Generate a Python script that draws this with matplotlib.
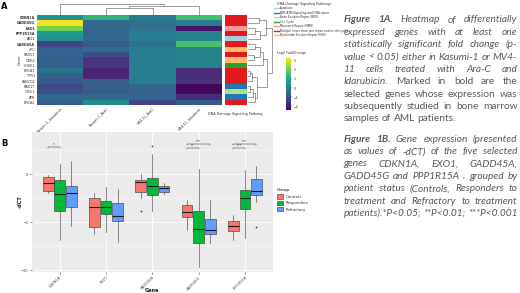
import numpy as np
import matplotlib
matplotlib.use("Agg")
import matplotlib.pyplot as plt
from matplotlib.colors import ListedColormap
from matplotlib.lines import Line2D
from matplotlib.patches import Patch

W, H = 520, 293

# ---------------- panel A: heatmap data ----------------
hm_genes = ["CDKN1A", "GADD45G", "EXO1", "PPP1R15A", "ABL1", "GADD45A", "XPC",
            "RAD51", "DDB2", "CHEK1", "BRCA1", "TP53", "FANCD2", "RAD17", "OGG1",
            "ATR", "BRCA2"]
hm_bold = ["CDKN1A", "GADD45G", "EXO1", "PPP1R15A", "GADD45A"]
hm_cols = ["Kasumi-1_Idarubicin", "Kasumi-1_AraC", "MV4-11_AraC", "MV4-11_Idarubicin"]

lfc_c1 = [0.45, 3.2, 2.1, 0.7, 0.45, -1.25, -0.6, -0.6, -0.65, -0.7, -0.2, -0.7,
          -0.8, -1.15, -1.0, -0.5, -0.75]
lfc_c2 = [1.3, -0.5, -0.55, -0.5, -0.5, -0.8, -0.4, -1.1, -1.55, -1.55, -1.85, -1.8,
          -0.75, -0.75, -0.75, -0.5, 0.3]
lfc_c3 = [-0.05, -0.25, -0.25, 0.0, 0.0, -0.2, 0.0, 0.0, 0.0, 0.0, 0.0, 0.0, 0.0,
          -0.55, -0.6, -0.55, -1.25]
lfc_c4 = [1.6, -0.05, -2.1, 0.15, 0.15, 1.6, 0.15, 0.15, 0.15, 0.15, -1.7, -1.7,
          -1.55, -2.3, -2.3, -1.7, -0.8]

pathways = ["Apoptosis", "ATR/ATM Signaling and DNA repair", "Base Excision Repair (BER)",
            "Cell Cycle", "Mismatch Repair (MMR)",
            "Multiple (more than one repair and/or cell cycle)",
            "Nucleotide Excision Repair (NER)"]
pathway_colors = ["#a6cee3", "#1f78b4", "#b2df8a", "#33a02c", "#fb9a99", "#e31a1c", "#fdbf6f"]
row_pathway = [5, 5, 4, 5, 0, 5, 6, 5, 6, 3, 5, 5, 5, 1, 2, 1, 5]

# linkage: (child a, child b, height); clusters numbered after the leaves
col_merges = [(1, 2, 0.59), (3, 4, 0.80), (0, 5, 1.0)]
row_merges = [(0, 1, 0.45), (2, 3, 0.30), (18, 4, 0.50), (17, 19, 0.75),
              (5, 6, 0.30), (7, 8, 0.25), (21, 22, 0.50), (23, 9, 0.62),
              (10, 11, 0.10), (25, 12, 0.20), (13, 14, 0.12), (27, 15, 0.22),
              (28, 16, 0.30), (26, 29, 0.40), (24, 30, 0.80), (20, 31, 1.0)]

# ---------------- panel B: box data (-dCT) ----------------
genes_b = ["CDKN1A", "EXO1", "GADD45A", "GADD45G", "PPP1R15A"]
groups = ["Controls", "Responders", "Refractory"]
group_colors = ["#F8766D", "#00BA38", "#619CFF"]
# per gene: [Controls, Responders, Refractory]
box_lo = [[-2.0, -6.9, -5.4], [-6.25, -6.0, -7.05], [-2.5, -3.82, -2.08],
          [-5.83, -9.66, -7.22], [-6.87, -6.7, -2.88]]
box_q1 = [[-1.74, -3.85, -3.47], [-5.49, -4.1, -4.86], [-1.84, -2.19, -1.84],
          [-4.51, -7.22, -6.25], [-5.94, -3.68, -2.19]]
box_med = [[-0.9, -2.08, -2.0], [-3.47, -3.47, -4.38], [-0.8, -1.22, -1.49],
           [-3.92, -5.76, -5.83], [-5.38, -2.53, -1.74]]
box_q3 = [[-0.28, -0.63, -1.18], [-2.53, -2.78, -2.99], [-0.63, -0.38, -1.25],
          [-3.23, -3.85, -4.69], [-4.9, -1.67, -0.55]]
box_hi = [[-0.1, 1.04, 1.39], [-2.0, -1.3, -1.5], [0.07, 2.15, -0.9],
          [-2.7, 0.49, -2.7], [-4.27, 0.42, 0.83]]
box_out = [[[], [], []], [[], [], []], [[-3.8], [2.9], []], [[], [], []], [[], [], [-5.49]]]

sig_gene = [0, 3, 3, 4, 4]
sig_pair = [(0, 1), (0, 2), (0, 1), (0, 2), (0, 1)]
sig_y = [2.85, 3.12, 2.78, 3.12, 2.78]
sig_label = ["*", "***", "**", "***", "***"]

# ---------------- caption ----------------
cap_a = [
    [("Figure 1A.", "bi"), ("Heatmap of differentially", "i")],
    [("expressed genes with at least one", "i")],
    [("statistically significant fold change (p-", "i")],
    [("value < 0.05) either in Kasumi-1 or MV4-", "i")],
    [("11 cells treated with Ara-C and", "i")],
    [("Idarubicin.", "i"), ("Marked in bold are the", "n")],
    [("selected genes whose expression was", "n")],
    [("subsequently studied in bone marrow", "n")],
    [("samples of AML patients.", "n")],
]
cap_b = [
    [("Figure 1B.", "bi"), ("Gene expression (presented", "i")],
    [("as values of -dCT) of the five selected", "i")],
    [("genes CDKN1A, EXO1, GADD45A,", "i")],
    [("GADD45G and PPP1R15A , grouped by", "i")],
    [("patient status (Controls, Responders to", "i")],
    [("treatment and Refractory to treatment", "i")],
    [("patients).*P<0.05; **P<0.01; ***P<0.001", "i")],
]


def rect(x0, y0, x1, y1):
    return [x0 / W, 1 - y1 / H, (x1 - x0) / W, (y1 - y0) / H]


def draw_dendro(ax, merges, n, orient):
    pos = list(np.arange(n) + 0.5)
    hgt = [0.0] * n
    for a, b, h in merges:
        xs = [pos[a], pos[a], pos[b], pos[b]]
        ys = [hgt[a], h, h, hgt[b]]
        if orient == "top":
            ax.plot(xs, ys, color="#555555", lw=0.4, clip_on=False)
        else:
            ax.plot(ys, xs, color="#555555", lw=0.4, clip_on=False)
        pos.append((pos[a] + pos[b]) / 2)
        hgt.append(h)


fig = plt.figure(figsize=(W / 100, H / 100), dpi=100)
fig.patch.set_facecolor("white")
small = dict(fontsize=2.4, color="#333333")

# heatmap
axh = fig.add_axes(rect(36.7, 15, 222, 105))
mat = np.column_stack([lfc_c1, lfc_c2, lfc_c3, lfc_c4])
mesh = axh.pcolormesh(mat, cmap="viridis", vmin=-2.4, vmax=3.3)
axh.set_ylim(len(hm_genes), 0)
axh.set_yticks(np.arange(len(hm_genes)) + 0.5)
axh.set_yticklabels(hm_genes, **small)
for lab in axh.get_yticklabels():
    if lab.get_text() in hm_bold:
        lab.set_fontweight("bold")
axh.set_xticks(np.arange(len(hm_cols)) + 0.5)
axh.set_xticklabels(hm_cols, rotation=45, ha="right", rotation_mode="anchor", **small)
axh.tick_params(length=0, pad=1)
axh.set_xlabel("Cell Treatment", fontsize=2.8, color="#333333", labelpad=4)
axh.set_ylabel("Gene", fontsize=2.8, color="#333333")
axh.yaxis.set_label_coords(-0.081, 0.5)
for s in axh.spines.values():
    s.set_visible(False)

# pathway annotation column
axa = fig.add_axes(rect(225, 15, 247, 105))
axa.pcolormesh(np.array(row_pathway)[:, None], cmap=ListedColormap(pathway_colors),
               vmin=-0.5, vmax=len(pathways) - 0.5)
axa.set_ylim(len(hm_genes), 0)
axa.set_xticks([])
axa.set_yticks([])
axa.set_xlabel("DNA Damage Signaling Pathway", fontsize=2.4, color="#333333", labelpad=5)
for s in axa.spines.values():
    s.set_visible(False)

# dendrograms
axc = fig.add_axes(rect(36.7, 3.7, 222, 15))
draw_dendro(axc, col_merges, len(hm_cols), "top")
axc.set_xlim(0, len(hm_cols))
axc.set_ylim(0, 1)
axc.axis("off")

axr = fig.add_axes(rect(247.5, 15, 272, 105))
draw_dendro(axr, row_merges, len(hm_genes), "right")
axr.set_xlim(0, 1)
axr.set_ylim(len(hm_genes), 0)
axr.axis("off")

# pathway legend
fig.text(277 / W, 1 - 4 / H, "DNA Damage Signaling Pathways", fontsize=2.3,
         color="#333333", va="center")
handles = [Line2D([], [], color=c, lw=1.0) for c in pathway_colors]
fig.legend(handles, pathways, loc="upper left", bbox_to_anchor=(274 / W, 1 - 6.5 / H),
           frameon=False, fontsize=2.1, labelspacing=0.15, handlelength=1.6,
           handletextpad=0.6, borderpad=0, borderaxespad=0, labelcolor="#333333")

# colorbar
fig.text(277 / W, 1 - 53 / H, "Log2 FoldChange", fontsize=2.4, color="#333333", va="center")
cax = fig.add_axes(rect(285.7, 58, 291, 110))
cb = fig.colorbar(mesh, cax=cax, ticks=[-2, -1, 0, 1, 2, 3])
cb.outline.set_visible(False)
cax.tick_params(labelsize=2.3, length=1, width=0.3, pad=1, colors="#333333")

# ---------------- panel B ----------------
axb = fig.add_axes(rect(32, 132, 272.7, 272))
axb.set_facecolor("#EBEBEB")
for s in axb.spines.values():
    s.set_visible(False)
axb.set_xlim(0.4, len(genes_b) + 0.6)
axb.set_ylim(-10.2, 4.4)
axb.set_yticks([0, -5, -10])
axb.set_yticks([2.5, -2.5, -7.5], minor=True)
axb.set_xticks(np.arange(1, len(genes_b) + 1))
axb.grid(True, which="major", color="white", lw=0.6)
axb.grid(True, which="minor", axis="y", color="white", lw=0.3)
axb.set_axisbelow(True)
axb.tick_params(which="major", length=1.5, width=0.4, color="#333333", pad=1,
                labelsize=2.6, labelcolor="#4d4d4d")
axb.tick_params(which="minor", length=0)
axb.set_xticklabels(genes_b, rotation=45, ha="right", rotation_mode="anchor")

stats, positions, colors = [], [], []
for g in range(len(genes_b)):
    for k in range(len(groups)):
        stats.append(dict(whislo=box_lo[g][k], q1=box_q1[g][k], med=box_med[g][k],
                          q3=box_q3[g][k], whishi=box_hi[g][k], fliers=box_out[g][k]))
        positions.append(g + 1 + (k - 1) * 0.25)
        colors.append(group_colors[k])
bp = axb.bxp(stats, positions=positions, widths=0.23, patch_artist=True,
             showcaps=False, manage_ticks=False,
             boxprops=dict(edgecolor="#333333", lw=0.4),
             whiskerprops=dict(color="#333333", lw=0.4),
             medianprops=dict(color="#1a1a1a", lw=0.8),
             flierprops=dict(marker="o", ms=1.2, mfc="#333333", mec="none"))
for patch, c in zip(bp["boxes"], colors):
    patch.set_facecolor(c)

for g, (a, b), y, lab in zip(sig_gene, sig_pair, sig_y, sig_label):
    xa = g + 1 + (a - 1) * 0.25
    xb = g + 1 + (b - 1) * 0.25
    axb.plot([xa, xa, xb, xb], [y - 0.12, y, y, y - 0.12], color="#333333", lw=0.35,
             clip_on=False)
    axb.text((xa + xb) / 2, y + 0.05, lab, fontsize=2.4, ha="center", va="bottom",
             color="#333333")

axb.yaxis.set_label_coords(-0.039, 0.5)
axb.set_ylabel("-dCT", fontsize=3.6, fontweight="bold", color="#1a1a1a")
fig.text(151.7 / W, 1 - 290 / H, "Gene", fontsize=3.6, fontweight="bold",
         color="#1a1a1a", ha="center", va="center")

ghandles = [Patch(facecolor=c, edgecolor="#333333", lw=0.4) for c in group_colors]
fig.legend(ghandles, groups, title="Group", loc="upper left",
           bbox_to_anchor=(277 / W, 1 - 188.5 / H), frameon=False, fontsize=2.8,
           title_fontsize=3.2, labelspacing=0.5, handlelength=1.6, handleheight=1.3,
           handletextpad=0.7, borderpad=0, borderaxespad=0, alignment="left",
           labelcolor="#333333")

# panel letters
fig.text(4.5 / W, 1 - 6.5 / H, "A", fontsize=6, fontweight="bold", ha="center", va="center")
fig.text(4.5 / W, 1 - 144 / H, "B", fontsize=6, fontweight="bold", ha="center", va="center")

# ---------------- justified caption ----------------
CAP_FS = 7.3
CAP_COLOR = "#595959"
LEFT, RIGHT = 343.5, 517.5
fig.canvas.draw()
renderer = fig.canvas.get_renderer()
space_w = 0.26 * CAP_FS * 100 / 72


def put_line(segs, y, justify):
    arts = []
    for txt, st in segs:
        for w in txt.split():
            t = fig.text(0, 1 - y / H, w, fontsize=CAP_FS, family="Lato",
                         style="italic" if "i" in st else "normal",
                         weight="bold" if "b" in st else "normal",
                         color=CAP_COLOR, ha="left", va="center")
            arts.append(t)
    widths = [t.get_window_extent(renderer).width for t in arts]
    if justify and len(arts) > 1:
        gap = (RIGHT - LEFT - sum(widths)) / (len(arts) - 1)
    else:
        gap = space_w
    x = LEFT
    for t, w in zip(arts, widths):
        t.set_x(x / W)
        x += w + gap


for i, segs in enumerate(cap_a):
    put_line(segs, 20 + i * 12.35, i < len(cap_a) - 1)
for i, segs in enumerate(cap_b):
    put_line(segs, 139.3 + i * 12.35, True)

fig.savefig("out.png", dpi=100)
